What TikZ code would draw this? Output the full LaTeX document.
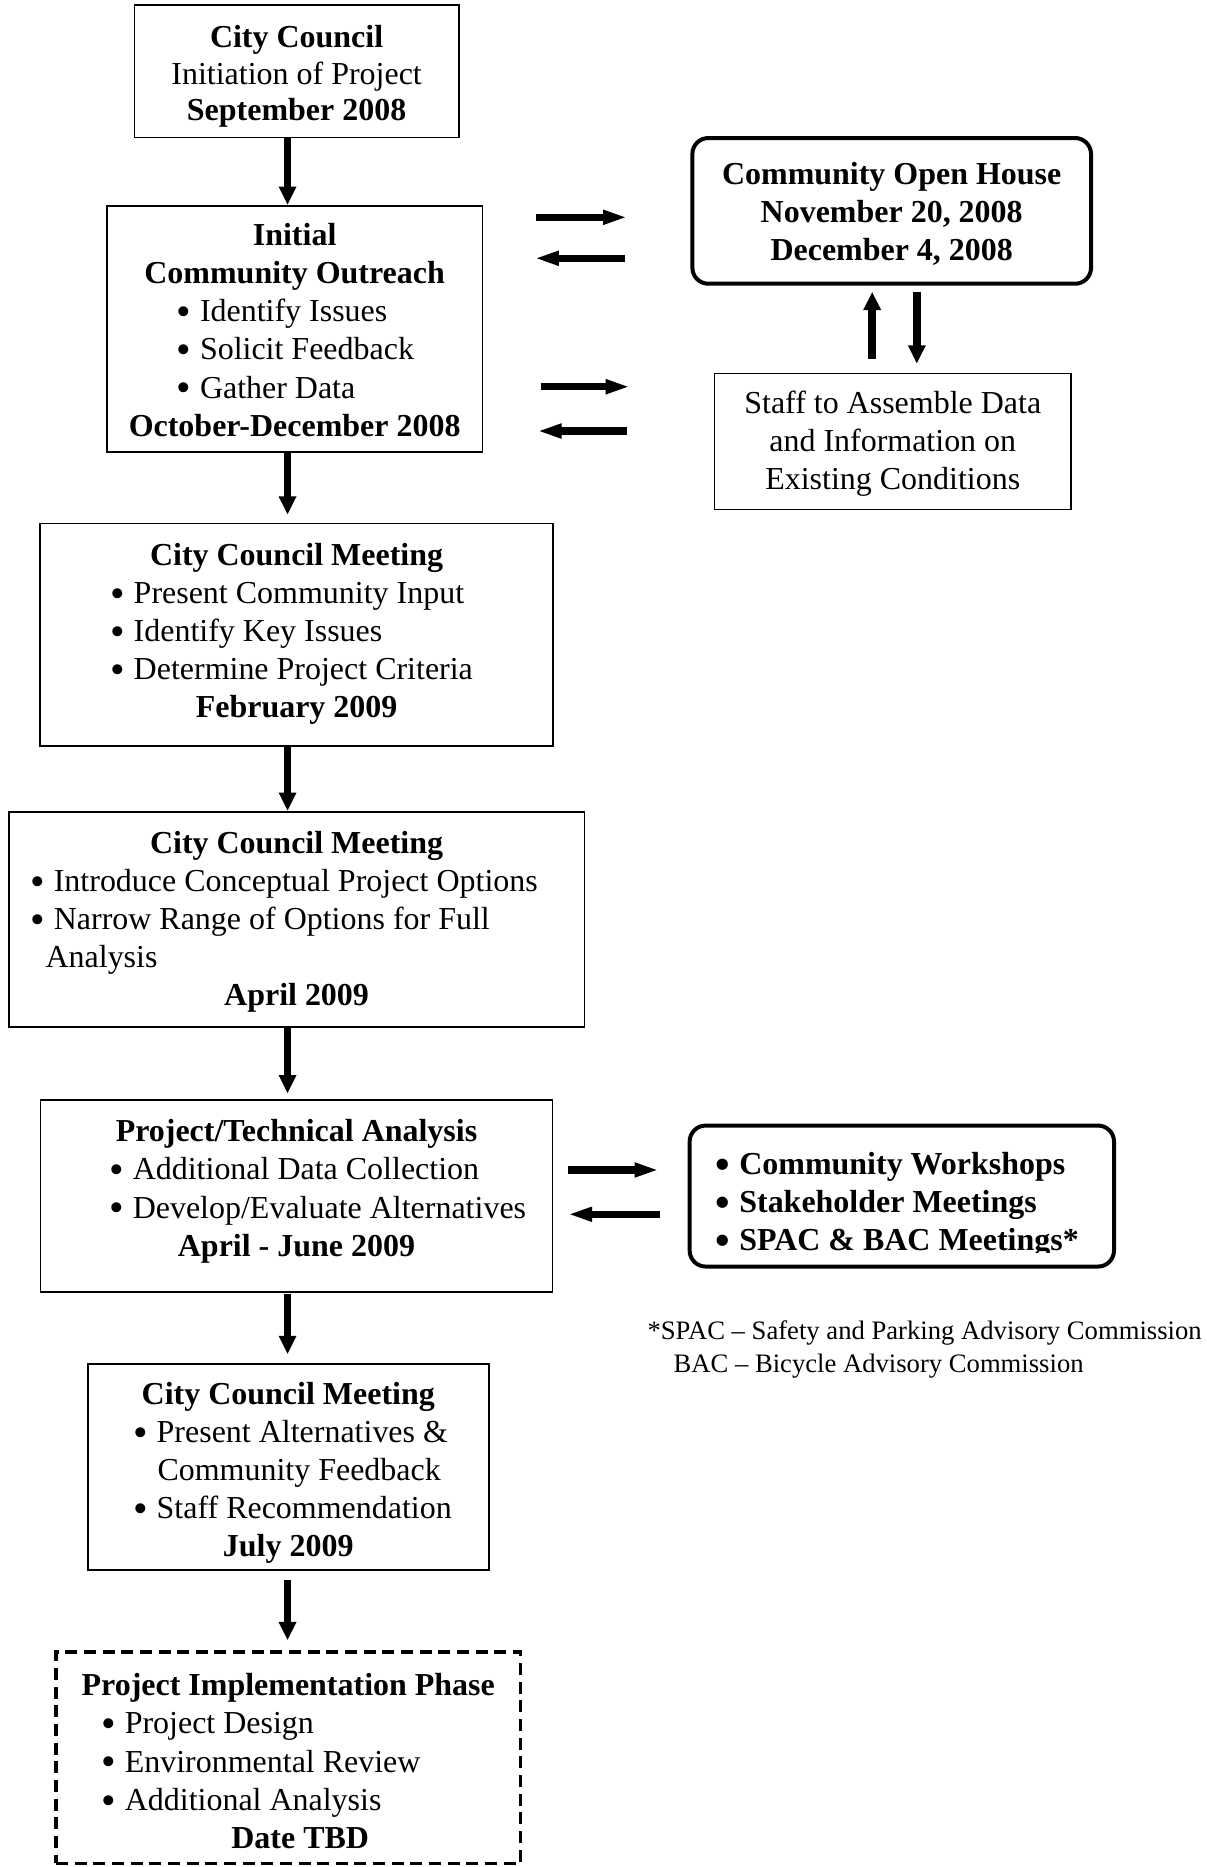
\documentclass[tikz,border=0pt]{standalone}
\usepackage{fontspec}
\setmainfont{Liberation Serif}
\usetikzlibrary{arrows.meta}
\newlength{\ux}\setlength{\ux}{0.4469pt}
\newcommand{\bl}[2]{\makebox[#1\ux][l]{\raisebox{-0.12em}{\scalebox{1.3}{\textbullet}}\hspace{7.7\ux}#2}}
\newcommand{\fs}[1]{\rule{0pt}{#1pt}}
\begin{document}
\begin{tikzpicture}[x=0.4469pt,y=-0.4469pt,
  box/.style={draw, line width=0.65pt, inner sep=0pt, align=center,
              font={\fontsize{12pt}{14.3pt}\selectfont}},
  rbox/.style={box, line width=1.5pt, rounded corners=6pt},
  dbox/.style={box, line width=1.25pt, dash pattern=on 4.5pt off 2.5pt},
  vflow/.style={line width=2.95pt, -{Triangle[length=6.9pt,width=6.2pt]}},
  hflow/.style={line width=2.8pt, -{Triangle[length=9.2pt,width=5pt]}},
  note/.style={inner sep=0pt, align=left, font={\fontsize{10pt}{12.4pt}\selectfont}}]
\useasboundingbox (0,0) rectangle (1013,1568);

% main column
\node[box, minimum width=272.4\ux, minimum height=111.2\ux, font={\fontsize{12pt}{13.7pt}\selectfont}] (b1) at (249.1,59.8)
  {\fs{12.2}\textbf{City Council}\\Initiation of Project\\\textbf{September 2008}};
\node[box, minimum width=315.5\ux, minimum height=206.6\ux] (b2) at (247.45,276.1)
  {\fs{9.2}\textbf{Initial}\\\textbf{Community Outreach}\\\bl{198.8}{Identify Issues}\\\bl{198.8}{Solicit Feedback}\\\bl{198.8}{Gather Data}\\\textbf{October-December 2008}};
\node[box, minimum width=430.4\ux, minimum height=187.1\ux] (b3) at (249.1,533.2)
  {\fs{10.9}\textbf{City Council Meeting}\\\bl{313.4}{Present Community Input}\\\bl{313.4}{Identify Key Issues}\\\bl{313.4}{Determine Project Criteria}\\\textbf{February 2009}\rule[-5.9pt]{0pt}{5.9pt}};
\node[box, minimum width=483.6\ux, minimum height=180.9\ux] (b4) at (249.1,772.2)
  {\fs{10.3}\textbf{City Council Meeting}\\\bl{447.6}{Introduce Conceptual Project Options}\\\bl{447.6}{Narrow Range of Options for Full}\\\makebox[421.6\ux][l]{Analysis}\\\textbf{April 2009}};
\node[box, minimum width=430\ux, minimum height=161\ux] (b5) at (249,1004.5)
  {\fs{10.6}\textbf{Project/Technical Analysis}\\\bl{314.8}{Additional Data Collection}\\\bl{314.8}{Develop/Evaluate Alternatives}\\\textbf{April - June 2009}\rule[-8.4pt]{0pt}{8.4pt}};
\node[box, minimum width=336.8\ux, minimum height=173\ux] (b6) at (242.1,1232.3)
  {\fs{12.6}\textbf{City Council Meeting}\\\bl{260.8}{Present Alternatives \&}\\\makebox[219.6\ux][l]{Community Feedback}\\\bl{260.8}{Staff Recommendation}\\\textbf{July 2009}};
\node[dbox, minimum width=390\ux, minimum height=177.6\ux] (b7) at (242.1,1476.2)
  {\fs{10.9}\textbf{Project Implementation Phase}\\\bl{314.4}{Project Design}\\\bl{314.4}{Environmental Review}\\\bl{314.4}{Additional Analysis}\\\hspace*{20\ux}\textbf{Date TBD}};

% right column
\node[rbox, minimum width=334.8\ux, minimum height=122.4\ux] (oh) at (748.9,177.1)
  {\fs{10.5}\textbf{Community Open House}\\\textbf{November 20, 2008}\\\textbf{December 4, 2008}};
\node[box, minimum width=299.6\ux, minimum height=114.2\ux] (st) at (749.8,370.7)
  {\fs{10.2}Staff to Assemble Data\\and Information on\\Existing Conditions};
\node[rbox, minimum width=356.4\ux, minimum height=118.4\ux] (ws) at (757.4,1004.5) {};
\begin{scope}
  \clip (ws.north west) rectangle (ws.east |- 0,1052);
  \node[inner sep=0pt, align=center, font={\fontsize{12pt}{14.3pt}\selectfont\bfseries}] (wst) at (757.4,1012)
    {\bl{312.8}{Community Workshops}\\\bl{312.8}{Stakeholder Meetings}\\\bl{312.8}{SPAC \& BAC Meetings*}};
\end{scope}
\node[note, anchor=west] (fn) at (543.4,1133)
  {*SPAC – Safety and Parking Advisory Commission\\\hspace*{21.9\ux}BAC – Bicycle Advisory Commission};

% helper coordinates
\coordinate (ax) at (241.5,0);
\coordinate (ux1) at (732.5,0);
\coordinate (ux2) at (770,0);
\coordinate (y1) at (0,182.5);
\coordinate (y2) at (0,216.9);
\coordinate (y3) at (0,324.8);
\coordinate (y4) at (0,362);
\coordinate (y5) at (0,982.6);
\coordinate (y6) at (0,1019.8);

% main flow
\draw[vflow] (b1.south -| ax) -- (b2.north -| ax);
\draw[vflow, shorten >=6.6\ux] (b2.south -| ax) -- (b3.north -| ax);
\draw[vflow] (b3.south -| ax) -- (b4.north -| ax);
\draw[vflow, shorten >=5\ux] (b4.south -| ax) -- (b5.north -| ax);
\draw[vflow, shorten <=1\ux, shorten >=7.8\ux] (b5.south -| ax) -- (b6.north -| ax);
\draw[vflow, shorten <=7\ux, shorten >=8.4\ux] (b6.south -| ax) -- (b7.north -| ax);

% open house <-> staff
\draw[vflow, shorten <=11.6\ux, shorten >=5\ux] (st.north -| ux1) -- (oh.south -| ux1);
\draw[vflow, shorten <=5\ux, shorten >=7.4\ux] (oh.south -| ux2) -- (st.north -| ux2);

% side exchanges
\draw[hflow, shorten <=44.4\ux, shorten >=52.8\ux] (b2.east |- y1) -- (oh.west |- y1);
\draw[hflow, shorten <=54.8\ux, shorten >=42.8\ux] (oh.west |- y2) -- (b2.east |- y2);
\draw[hflow, shorten <=48.4\ux, shorten >=70\ux] (b2.east |- y3) -- (st.west |- y3);
\draw[hflow, shorten <=72.5\ux, shorten >=45.1\ux] (st.west |- y4) -- (b2.east |- y4);
\draw[hflow, shorten <=12\ux, shorten >=24\ux] (b5.east |- y5) -- (ws.west |- y5);
\draw[hflow, shorten <=23\ux, shorten >=12\ux] (ws.west |- y6) -- (b5.east |- y6);
\end{tikzpicture}
\end{document}
